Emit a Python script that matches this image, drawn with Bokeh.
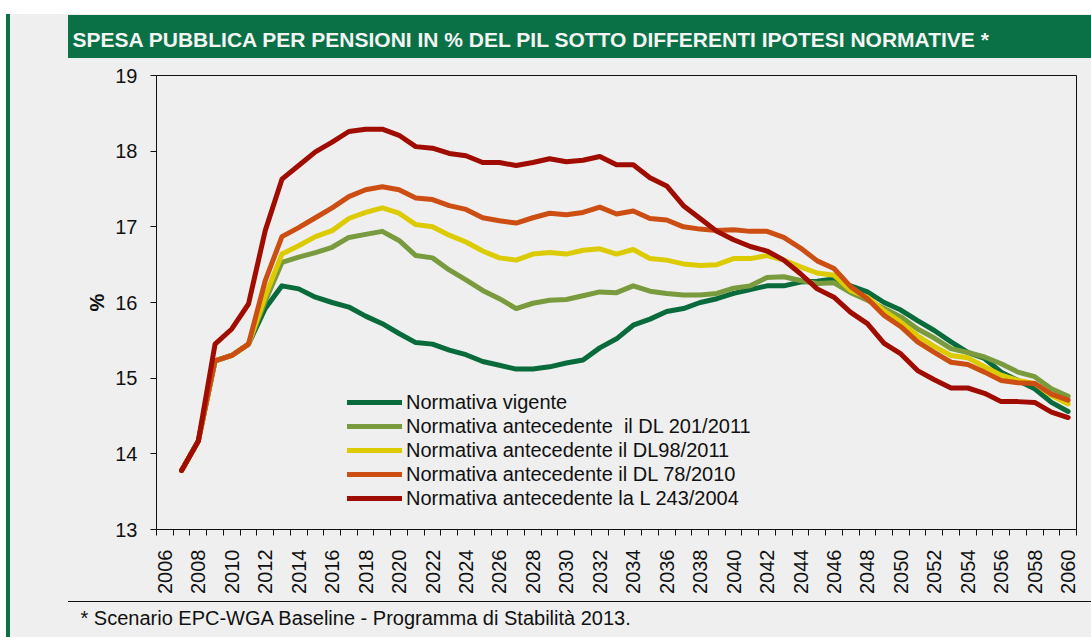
import math
from bokeh.plotting import figure
from bokeh.models import Range1d, FixedTicker, Legend, LegendItem, Title
from bokeh.embed import file_html
from bokeh.resources import INLINE

# ---------------- data ----------------
years = list(range(2007, 2061))
tick_years = list(range(2006, 2061, 2))

vigente = [13.78, 14.17, 15.23, 15.30, 15.45, 15.92, 16.22, 16.18, 16.07, 16.00,
           15.94, 15.82, 15.72, 15.59, 15.47, 15.45, 15.37, 15.31, 15.22, 15.17,
           15.12, 15.12, 15.15, 15.20, 15.24, 15.40, 15.52, 15.70, 15.78, 15.88,
           15.92, 16.00, 16.05, 16.12, 16.17, 16.22, 16.22, 16.27, 16.28, 16.31,
           16.22, 16.14, 16.00, 15.90, 15.76, 15.63, 15.48, 15.34, 15.26, 15.08,
           14.97, 14.86, 14.68, 14.56]
dl201 = [13.78, 14.17, 15.23, 15.30, 15.45, 16.02, 16.53, 16.60, 16.66, 16.73,
         16.86, 16.90, 16.94, 16.82, 16.62, 16.59, 16.43, 16.30, 16.16, 16.05,
         15.92, 15.99, 16.03, 16.04, 16.09, 16.14, 16.13, 16.22, 16.15, 16.12,
         16.10, 16.10, 16.12, 16.19, 16.22, 16.33, 16.34, 16.29, 16.25, 16.26,
         16.13, 16.03, 15.92, 15.81, 15.65, 15.53, 15.39, 15.34, 15.28, 15.19,
         15.08, 15.02, 14.86, 14.76]
dl98 = [13.78, 14.17, 15.23, 15.30, 15.45, 16.08, 16.64, 16.75, 16.87, 16.95,
        17.11, 17.19, 17.25, 17.18, 17.03, 17.00, 16.89, 16.80, 16.68, 16.59,
        16.56, 16.64, 16.66, 16.64, 16.69, 16.71, 16.64, 16.70, 16.58, 16.56,
        16.51, 16.49, 16.50, 16.58, 16.58, 16.62, 16.56, 16.47, 16.39, 16.36,
        16.16, 16.07, 15.89, 15.74, 15.56, 15.42, 15.30, 15.27, 15.15, 15.04,
        14.97, 14.93, 14.77, 14.66]
dl78 = [13.78, 14.17, 15.23, 15.30, 15.45, 16.29, 16.87, 16.99, 17.12, 17.25,
        17.40, 17.49, 17.53, 17.49, 17.38, 17.36, 17.28, 17.23, 17.12, 17.08,
        17.05, 17.12, 17.18, 17.16, 17.19, 17.26, 17.17, 17.21, 17.11, 17.09,
        17.00, 16.97, 16.95, 16.96, 16.94, 16.94, 16.86, 16.72, 16.55, 16.45,
        16.21, 16.05, 15.83, 15.68, 15.48, 15.34, 15.21, 15.18, 15.08, 14.97,
        14.94, 14.93, 14.79, 14.71]
l243 = [13.78, 14.17, 15.45, 15.65, 15.98, 16.95, 17.63, 17.81, 17.99, 18.12,
        18.26, 18.29, 18.29, 18.21, 18.06, 18.04, 17.97, 17.94, 17.85, 17.85,
        17.81, 17.85, 17.90, 17.86, 17.88, 17.93, 17.82, 17.82, 17.65, 17.54,
        17.28, 17.11, 16.94, 16.83, 16.74, 16.68, 16.56, 16.38, 16.18, 16.07,
        15.87, 15.72, 15.46, 15.32, 15.10, 14.98, 14.87, 14.87, 14.80, 14.69,
        14.69, 14.68, 14.55, 14.48]

series_names = ["Normativa vigente",
                "Normativa antecedente  il DL 201/2011",
                "Normativa antecedente il DL98/2011",
                "Normativa antecedente il DL 78/2010",
                "Normativa antecedente la L 243/2004"]
series_values = [vigente, dl201, dl98, dl78, l243]
series_colors = ["#096b3b", "#7a9a3e", "#dccb00", "#cc4e12", "#a00c00"]

title_text = "SPESA PUBBLICA PER PENSIONI IN % DEL PIL SOTTO DIFFERENTI IPOTESI NORMATIVE *"
foot_text = "* Scenario EPC-WGA Baseline - Programma di Stabilità 2013."

# ---------------- layout ----------------
W, H = 1091, 637
FL, FR, FT, FB = 156, 1076, 75, 529
FONT = "Liberation Sans"
GREEN = "#0a7046"
BG = "#efefef"
INK = "#111111"


def solid(c):
    return "linear-gradient(%s, %s)" % (c, c)


# page decorations painted behind the (transparent) canvas
layers = [
    (solid("white"), "0px 0px", "100% 14px"),
    (solid(GREEN), "68px 15px", "100% 43px"),
    (solid(INK), "68px 601px", "100% 1px"),
    (solid(GREEN), "6px 14px", "4px 100%"),
    (solid(BG), "10px 14px", "100% 100%"),
]
styles = {
    "background-color": "white",
    "background-image": ", ".join(l[0] for l in layers),
    "background-position": ", ".join(l[1] for l in layers),
    "background-size": ", ".join(l[2] for l in layers),
    "background-repeat": "no-repeat",
}

p = figure(width=W, height=H, output_backend="svg", toolbar_location=None,
           x_range=Range1d(2005.5, 2060.5), y_range=Range1d(13, 19),
           min_border_left=FL, min_border_right=W - FR,
           min_border_top=FT, min_border_bottom=H - FB,
           styles=styles)
p.border_fill_color = None
p.background_fill_color = None
p.outline_line_color = INK
p.outline_line_width = 1
p.xgrid.visible = False
p.ygrid.visible = False

# title (white on the green bar)
p.title.text = title_text
p.title.align = "left"
p.title.offset = 72 - FL
p.title.standoff = 50
p.title.text_font = FONT
p.title.text_font_style = "bold"
p.title.text_font_size = "21px"
p.title.text_color = "#f4f4f4"

xax = p.below[0]
yax = p.left[0]

xax.ticker = FixedTicker(ticks=tick_years, minor_ticks=[y - 0.5 for y in range(2006, 2062)])
xax.major_label_orientation = math.pi / 2
xax.major_tick_out = 0
xax.major_tick_in = 0
xax.major_tick_line_color = None
xax.minor_tick_out = 6
xax.minor_tick_in = 0
xax.minor_tick_line_color = INK
xax.major_label_standoff = 14
xax.axis_line_color = INK

yax.ticker = FixedTicker(ticks=[13, 14, 15, 16, 17, 18, 19], minor_ticks=[])
yax.major_tick_out = 6
yax.major_tick_in = 0
yax.minor_tick_line_color = None
yax.major_tick_line_color = INK
yax.major_label_standoff = 13
yax.axis_line_color = INK
yax.axis_label = "%"
yax.axis_label_text_font = FONT
yax.axis_label_text_font_style = "bold"
yax.axis_label_text_font_size = "20px"
yax.axis_label_text_color = INK
yax.axis_label_standoff = 4

for ax in (xax, yax):
    ax.major_label_text_font = FONT
    ax.major_label_text_font_size = "20px"
    ax.major_label_text_color = INK

# footnote below the year labels
p.add_layout(Title(text=foot_text, align="left", offset=80 - FL, standoff=16,
                   text_font=FONT, text_font_style="normal", text_font_size="20px",
                   text_color=INK), "below")

# lines
items = []
for name, vals, col in zip(series_names, series_values, series_colors):
    r = p.line(years, vals, line_color=col, line_width=5,
               line_join="round", line_cap="round")
    items.append(LegendItem(label=name, renderers=[r]))

legend = Legend(items=items, location=(191, 19))
legend.glyph_width = 55
legend.glyph_height = 24
legend.label_height = 24
legend.spacing = 0
legend.padding = 0
legend.margin = 0
legend.label_standoff = 4
legend.border_line_color = None
legend.background_fill_alpha = 0
legend.label_text_font = FONT
legend.label_text_font_size = "20px"
legend.label_text_color = INK
p.add_layout(legend)

open("out.html", "w").write(file_html(p, INLINE))
